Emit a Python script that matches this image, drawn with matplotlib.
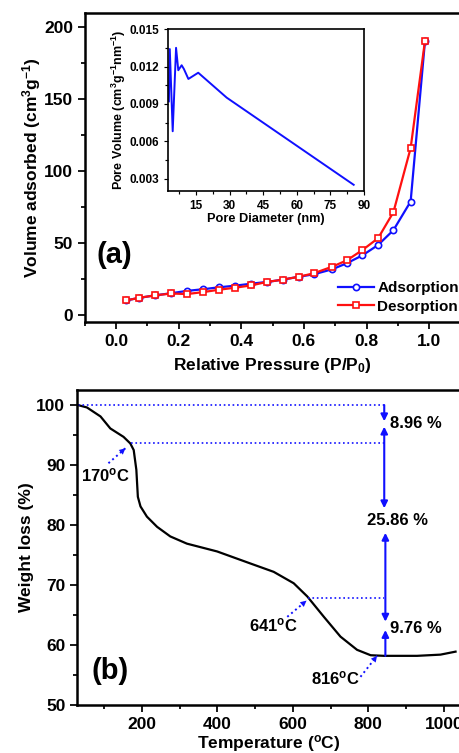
import matplotlib
matplotlib.use("Agg")
import matplotlib.pyplot as plt
from matplotlib.ticker import MultipleLocator

# ──────────────────────────────────────────────────────────────────────────────
# Data
# ──────────────────────────────────────────────────────────────────────────────

# (a) N2 isotherm
p_rel = [0.032, 0.074, 0.124, 0.176, 0.226, 0.279, 0.328, 0.379, 0.431, 0.481,
         0.532, 0.585, 0.631, 0.690, 0.737, 0.787, 0.837, 0.886, 0.941, 0.987]
adsorption = [10.2, 12.0, 13.7, 15.2, 16.8, 18.0, 19.3, 20.4, 21.8, 23.0,
              24.6, 26.7, 28.3, 31.8, 36.0, 41.5, 48.7, 59.0, 78.9, 190.7]
desorption = [10.2, 12.0, 13.7, 15.0, 14.6, 16.0, 17.6, 19.0, 20.6, 23.0,
              24.6, 26.7, 29.0, 33.6, 38.0, 45.2, 53.4, 71.5, 116.0, 190.7]

# inset: pore size distribution
pore_d = [2.9, 3.3, 4.6, 6.1, 7.1, 8.6, 9.6, 11.6, 16.0, 28.7, 85.4]
pore_v = [0.0092, 0.0134, 0.0068, 0.0135, 0.0117, 0.0121, 0.0118, 0.0110,
          0.0115, 0.0095, 0.0025]

# (b) TGA
temp = [30, 54, 90, 116, 151, 169, 178, 185, 189, 196, 213, 240, 275, 319,
        399, 487, 549, 602, 638, 682, 726, 770, 806, 841, 929, 991, 1031]
weight = [100.0, 99.6, 98.1, 96.1, 94.7, 93.6, 92.5, 89.2, 84.7, 83.1, 81.4,
          79.7, 78.1, 76.9, 75.6, 73.6, 72.2, 70.3, 68.1, 64.7, 61.4, 59.2,
          58.3, 58.2, 58.2, 58.4, 58.9]

step_temps = [170, 641, 816]
step_weights = [93.6, 67.9, 58.2]
step_labels = ["170$^\\mathregular{o}$C", "641$^\\mathregular{o}$C", "816$^\\mathregular{o}$C"]
loss_labels = ["8.96 %", "25.86 %", "9.76 %"]

# ──────────────────────────────────────────────────────────────────────────────
# Style
# ──────────────────────────────────────────────────────────────────────────────

plt.rcParams["font.family"] = ["Liberation Sans", "DejaVu Sans"]
plt.rcParams["font.weight"] = "bold"
plt.rcParams["axes.labelweight"] = "bold"
plt.rcParams["mathtext.default"] = "regular"

BLUE = "#1010ff"
RED = "#ff1010"


def style_axes(ax, lw=1.8, size=12.5, major=5, minor=3):
    for s in ax.spines.values():
        s.set_linewidth(lw)
    ax.tick_params(which="major", direction="out", length=major, width=lw * 0.7,
                   labelsize=size)
    ax.tick_params(which="minor", direction="out", length=minor, width=lw * 0.7)
    for lab in ax.get_xticklabels() + ax.get_yticklabels():
        lab.set_fontweight("bold")


fig = plt.figure(figsize=(4.59, 7.53), dpi=100)

# ──────────────────────────────────────────────────────────────────────────────
# (a) isotherm
# ──────────────────────────────────────────────────────────────────────────────
ax1 = fig.add_axes([0.185, 0.572, 0.818, 0.411])
ax1.plot(p_rel, adsorption, "-o", color=BLUE, lw=1.6, ms=4.5, mfc="white",
         mec=BLUE, mew=1.2, label="Adsorption")
ax1.plot(p_rel, desorption, "-s", color=RED, lw=1.6, ms=4.2, mfc="white",
         mec=RED, mew=1.2, label="Desorption")
ax1.set_xlim(-0.1, 1.1)
ax1.set_ylim(-5, 210)
ax1.xaxis.set_major_locator(MultipleLocator(0.2))
ax1.xaxis.set_minor_locator(MultipleLocator(0.1))
ax1.yaxis.set_major_locator(MultipleLocator(50))
ax1.yaxis.set_minor_locator(MultipleLocator(25))
ax1.set_xticks([0.0, 0.2, 0.4, 0.6, 0.8, 1.0])
ax1.set_xticklabels(["0.0", "0.2", "0.4", "0.6", "0.8", "1.0"])
style_axes(ax1)
ax1.set_xlabel("Relative Pressure (P/P$_0$)", fontsize=12.5, labelpad=5)
ax1.set_ylabel("Volume adsorbed (cm$^3$g$^{-1}$)", fontsize=12.5, labelpad=1)
ax1.text(-0.006, 41.8, "(a)", fontsize=21, fontweight="bold", ha="center", va="center")
ax1.legend(loc="center left", bbox_to_anchor=(0.673, 0.081), frameon=False,
           fontsize=11, numpoints=1, handlelength=2.4, handletextpad=0.2,
           labelspacing=0.3, borderpad=0, borderaxespad=0)

# inset
axi = fig.add_axes([0.366, 0.7463, 0.427, 0.215])
axi.plot(pore_d, pore_v, color=BLUE, lw=1.4)
axi.set_xlim(2.5, 90)
axi.set_ylim(0.002, 0.015)
axi.xaxis.set_major_locator(MultipleLocator(15))
axi.xaxis.set_minor_locator(MultipleLocator(7.5))
axi.yaxis.set_major_locator(MultipleLocator(0.003))
axi.yaxis.set_minor_locator(MultipleLocator(0.0015))
axi.set_xticks([15, 30, 45, 60, 75, 90])
axi.set_yticks([0.003, 0.006, 0.009, 0.012, 0.015])
axi.set_yticklabels(["0.003", "0.006", "0.009", "0.012", "0.015"])
style_axes(axi, lw=1.2, size=8.5, major=3, minor=2)
axi.set_xlabel("Pore Diameter (nm)", fontsize=9.2, labelpad=1)
axi.set_ylabel("Pore Volume (cm$^3$g$^{-1}$nm$^{-1}$)", fontsize=9, labelpad=1)

# ──────────────────────────────────────────────────────────────────────────────
# (b) TGA
# ──────────────────────────────────────────────────────────────────────────────
ax2 = fig.add_axes([0.168, 0.0637, 0.836, 0.4183])
ax2.plot(temp, weight, color="black", lw=1.6)
ax2.set_xlim(28, 1045)
ax2.set_ylim(50, 102.5)
ax2.xaxis.set_major_locator(MultipleLocator(200))
ax2.xaxis.set_minor_locator(MultipleLocator(100))
ax2.yaxis.set_major_locator(MultipleLocator(10))
ax2.yaxis.set_minor_locator(MultipleLocator(5))
ax2.set_xticks([200, 400, 600, 800, 1000])
style_axes(ax2)
ax2.set_xlabel("Temperature ($^\\mathregular{o}$C)", fontsize=12.5, labelpad=1)
ax2.set_ylabel("Weight loss (%)", fontsize=12.5, labelpad=2)
ax2.text(116, 55.6, "(b)", fontsize=21, fontweight="bold", ha="center", va="center")

x_bar = 842
ax2.hlines(100, 30, x_bar, colors=BLUE, linestyles=":", lw=1.2)
for t, w in zip(step_temps[:2], step_weights[:2]):
    ax2.hlines(w, t, x_bar, colors=BLUE, linestyles=":", lw=1.2)

arrow = dict(color=BLUE, lw=1.5, mutation_scale=10, shrinkA=0, shrinkB=0)
ax2.annotate("", xy=(x_bar, 97.3), xytext=(x_bar, 100),
             arrowprops=dict(arrowstyle="-|>", **arrow))
ax2.annotate("", xy=(x_bar, 82.8), xytext=(x_bar, 96.4),
             arrowprops=dict(arrowstyle="<|-|>", **arrow))
ax2.annotate("", xy=(x_bar + 3, 63.9), xytext=(x_bar + 3, 78.7),
             arrowprops=dict(arrowstyle="<|-|>", **arrow))
ax2.annotate("", xy=(x_bar + 3, 62.5), xytext=(x_bar + 3, 58.2),
             arrowprops=dict(arrowstyle="-|>", **arrow))

ax2.text(x_bar + 16, 97.0, loss_labels[0], fontsize=12, va="center", ha="left")
ax2.text(876, 80.7, loss_labels[1], fontsize=12, va="center", ha="center")
ax2.text(x_bar + 14, 62.8, loss_labels[2], fontsize=12, va="center", ha="left")

# dotted pointers to the step temperatures
pointer_tails = [(111, 90.3), (585, 64.7), (779, 54.7)]
pointer_heads = [(156, 92.8), (636, 67.4), (823, 58.2)]
label_pos = [(103, 88.3), (549, 63.3), (713, 54.4)]
for (x0, y0), (x1, y1), (tx, ty), lab in zip(pointer_tails, pointer_heads,
                                             label_pos, step_labels):
    ax2.plot([x0, x1], [y0, y1], ":", color=BLUE, lw=1.4)
    ax2.annotate("", xy=(x1, y1), xytext=(x0 + 0.6 * (x1 - x0), y0 + 0.6 * (y1 - y0)),
                 arrowprops=dict(arrowstyle="-|>", color=BLUE, lw=0.01,
                                 mutation_scale=11, shrinkA=0, shrinkB=0))
    ax2.text(tx, ty, lab, fontsize=12, ha="center", va="center")

fig.savefig("out.png", dpi=100)
